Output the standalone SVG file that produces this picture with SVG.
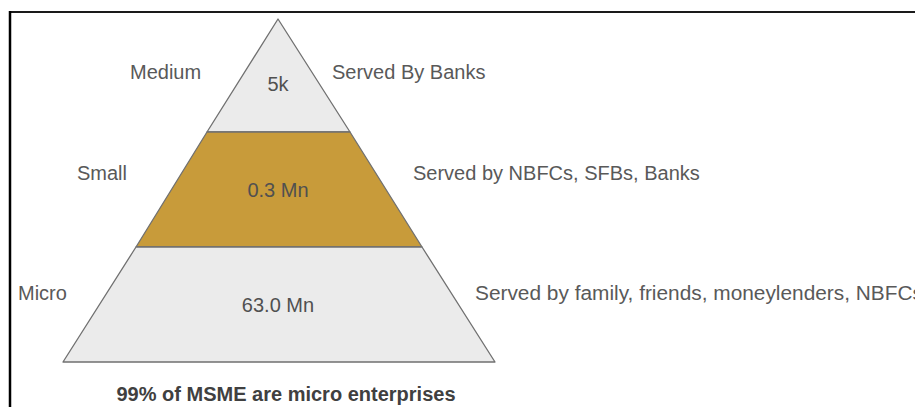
<svg xmlns="http://www.w3.org/2000/svg" width="915" height="407" viewBox="0 0 915 407">
<style>
.lbl{font-family:"Liberation Sans",Arial,sans-serif;font-size:20px;fill:#595959}
.val{font-family:"Liberation Sans",Arial,sans-serif;font-size:20px;fill:#505050;text-anchor:middle}
.cap{font-family:"Liberation Sans",Arial,sans-serif;font-size:20px;font-weight:bold;fill:#404040;text-anchor:middle}
.band{stroke:#707070;stroke-width:1.3;stroke-linejoin:round}
</style>
<rect width="915" height="407" fill="#ffffff"/>
<g id="frame">
<line x1="10" y1="12" x2="915" y2="12" stroke="#1a1a1a" stroke-width="2"/>
<line x1="10" y1="11" x2="10" y2="407" stroke="#000000" stroke-width="2.5"/>
</g>
<g id="medium">
<polygon class="band" points="278,19 350,132 207,132" fill="#ebebeb"/>
<text class="lbl" x="130" y="79">Medium</text>
<text class="val" x="278" y="91">5k</text>
<text class="lbl" x="332" y="79">Served By Banks</text>
</g>
<g id="small">
<polygon class="band" points="207,132 350,132 422,247 136,247" fill="#c89b3a"/>
<text class="lbl" x="77" y="180">Small</text>
<text class="val" x="278" y="197">0.3 Mn</text>
<text class="lbl" x="413" y="180">Served by NBFCs, SFBs, Banks</text>
</g>
<g id="micro">
<polygon class="band" points="136,247 422,247 495,362 63,362" fill="#ebebeb"/>
<text class="lbl" x="18" y="300">Micro</text>
<text class="val" x="278" y="312">63.0 Mn</text>
<text class="lbl" x="475" y="300" textLength="448" lengthAdjust="spacingAndGlyphs">Served by family, friends, moneylenders, NBFCs</text>
</g>
<g id="caption">
<text class="cap" x="286" y="401">99% of MSME are micro enterprises</text>
</g>
<g id="connectors"></g>
</svg>
